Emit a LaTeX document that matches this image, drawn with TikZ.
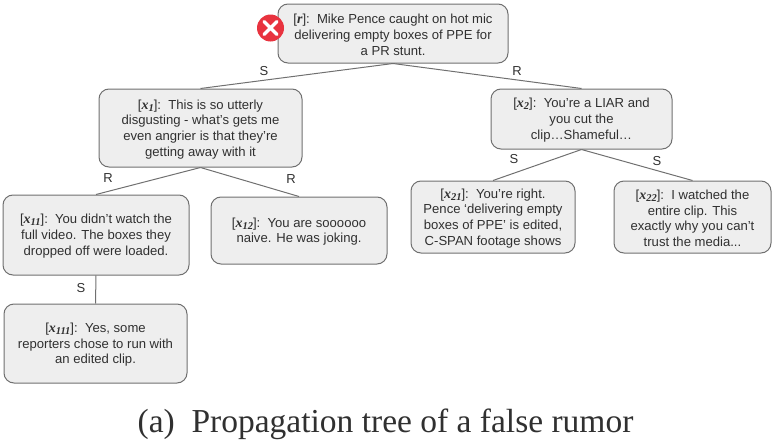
\documentclass[tikz,border=0pt]{standalone}
\usepackage{fontspec}
\setmainfont{Liberation Sans}
\newfontfamily\capfont{Liberation Serif}
\definecolor{boxfill}{HTML}{EEEEEE}
\definecolor{boxline}{HTML}{707070}
\definecolor{txt}{HTML}{303030}
\definecolor{crossred}{HTML}{E8333F}
\newcommand{\posttag}[2]{\rule{0pt}{12pt}[{\capfont\bfseries\itshape\fontsize{14}{14}\selectfont #1\raisebox{-0.3ex}{\fontsize{10.5}{10.5}\selectfont #2}}]:\ \ }
\tikzset{
  post/.style={draw=boxline,fill=boxfill,line width=1pt,rounded corners=10pt,inner sep=0pt,
    text=txt,font=\fontsize{13.1}{15.7}\selectfont,align=center,anchor=center},
  link/.style={draw=boxline,line width=1pt},
  edgelabel/.style={text=txt,font=\fontsize{13}{15}\selectfont,inner sep=0pt},
}
\begin{document}
\begin{tikzpicture}[x=1pt,y=-1pt]
\useasboundingbox (0,0) rectangle (774,447);
\node[post,minimum width=230pt,minimum height=59pt] (r) at (393,33.5) {\posttag{r}{}Mike Pence caught on hot mic\\delivering empty boxes of PPE for\\a PR stunt.};
\node[post,minimum width=203pt,minimum height=78pt] (x1) at (200.5,128) {\posttag{x}{1}This is so utterly\\disgusting - what's gets me\\even angrier is that they're\\getting away with it};
\node[post,minimum width=181pt,minimum height=60pt] (x2) at (581.5,119) {\posttag{x}{2}You're a LIAR and\\you cut the\\clip…Shameful…};
\node[post,minimum width=186pt,minimum height=80pt] (x11) at (96,235) {\posttag{x}{11}You didn't watch the\\full video. The boxes they\\dropped off were loaded.};
\node[post,minimum width=176pt,minimum height=67pt] (x12) at (299,230.5) {\posttag{x}{12}You are soooooo\\naive. He was joking.};
\node[post,minimum width=164pt,minimum height=72pt] (x21) at (493,217) {\posttag{x}{21}You're right.\\Pence ‘delivering empty\\boxes of PPE’ is edited,\\C-SPAN footage shows};
\node[post,minimum width=157pt,minimum height=72pt] (x22) at (692.5,217) {\posttag{x}{22}I watched the\\entire clip. This\\exactly why you can't\\trust the media...};
\node[post,minimum width=183pt,minimum height=79pt] (x111) at (95.5,343.5) {\posttag{x}{111}Yes, some\\reporters chose to run with\\an edited clip.};
\draw[link] (r.south) -- (x1.north);
\draw[link] (r.south) -- (x2.north);
\draw[link] (x1.south) -- (x11.north);
\draw[link] (x1.south) -- (x12.north);
\draw[link] (x2.south) -- (x21.north);
\draw[link] (x2.south) -- (x22.north);
\draw[link] (x11.south) -- (x111.north);
\node[edgelabel] (ls1) at (264,71) {S};
\node[edgelabel] (lr2) at (517,71) {R};
\node[edgelabel] (lr11) at (108,178) {R};
\node[edgelabel] (lr12) at (291,179) {R};
\node[edgelabel] (ls21) at (514,159) {S};
\node[edgelabel] (ls22) at (657,161) {S};
\node[edgelabel] (ls111) at (81,288) {S};
\node[circle,fill=crossred,minimum size=27pt,inner sep=0pt] (mark) at (270.5,28) {};
\draw[white,line width=3.4pt,line cap=round] (264,21.5) -- (277,34.5) (277,21.5) -- (264,34.5);
\node[font=\capfont\fontsize{33.5}{38}\selectfont,text=txt,inner sep=0pt] (cap) at (385.5,424) {(a)\ \ Propagation tree of a false rumor};
\end{tikzpicture}
\end{document}
